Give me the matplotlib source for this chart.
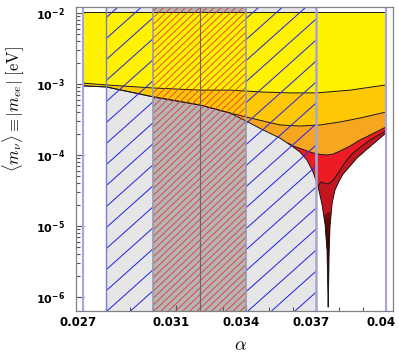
import numpy as np
import matplotlib
matplotlib.use('Agg')
import matplotlib.pyplot as plt
from matplotlib.collections import LineCollection
from matplotlib.colors import LinearSegmentedColormap
import matplotlib.transforms as mtransforms

# ---------------- data ----------------
alpha_top = [0.027, 0.040]
m_top = [1.02e-2, 1.02e-2]

alpha_L1 = [0.02700, 0.02800, 0.03000, 0.03202, 0.03331, 0.03473, 0.03588, 0.03704, 0.03846, 0.04000]
m_L1 = [1.03e-3, 9.7e-4, 8.8e-4, 8.2e-4, 8.2e-4, 7.7e-4, 7.5e-4, 7.5e-4, 8.2e-4, 9.7e-4]

alpha_L2 = [0.02700, 0.02800, 0.03000, 0.03202, 0.03331, 0.03400, 0.03473, 0.03545, 0.03631,
            0.03717, 0.03803, 0.03889, 0.04000]
m_L2 = [9.4e-4, 9.1e-4, 6.6e-4, 5.06e-4, 3.9e-4, 3.43e-4, 3.01e-4, 2.65e-4, 2.56e-4,
        2.65e-4, 2.92e-4, 3.32e-4, 4.03e-4]

# outer lower envelope (incl. the cancellation spike)
alpha_E = [0.02700, 0.02800, 0.03000, 0.03202, 0.03331, 0.03400, 0.03473, 0.03545, 0.03601,
           0.03631, 0.03661, 0.03687, 0.03709, 0.03726, 0.03739, 0.03747, 0.03750, 0.03752,
           0.03754, 0.03756, 0.03760, 0.03769, 0.03781, 0.03799, 0.03816, 0.03846, 0.03876,
           0.03910, 0.03945, 0.04000]
m_E = [9.4e-4, 9.1e-4, 6.6e-4, 5.06e-4, 3.9e-4, 3.0e-4, 2.25e-4, 1.73e-4, 1.30e-4,
       1.10e-4, 8.5e-5, 5.8e-5, 3.54e-5, 1.98e-5, 1.03e-5, 4.6e-6, 1.73e-6, 7.2e-7,
       1.73e-6, 4.6e-6, 1.03e-5, 2.11e-5, 3.21e-5, 4.3e-5, 5.4e-5, 7.0e-5, 9.1e-5,
       1.14e-4, 1.43e-4, 2.04e-4]

# top of the red region
alpha_L3 = [0.03580, 0.03601, 0.03631, 0.03661, 0.03687, 0.03717, 0.03747, 0.03773, 0.03803,
            0.03846, 0.03889, 0.03932, 0.04000]
m_L3 = [1.47e-4, 1.34e-4, 1.24e-4, 1.14e-4, 1.07e-4, 1.02e-4, 1.0e-4, 1.03e-4, 1.14e-4,
        1.34e-4, 1.63e-4, 1.91e-4, 2.48e-4]

# top of the dark-red region
alpha_D = [0.03709, 0.03721, 0.03739, 0.03752, 0.03769, 0.03786, 0.03803, 0.03828, 0.03859,
           0.03897, 0.03932, 0.04000]
m_D = [3.66e-5, 4.17e-5, 3.97e-5, 3.91e-5, 4.3e-5, 5.06e-5, 6.15e-5, 8.2e-5, 1.07e-4,
       1.34e-4, 1.63e-4, 2.21e-4]

# top of the darkest tip
alpha_D2 = [0.03735, 0.03752, 0.03765]
m_D2 = [1.38e-5, 1.57e-5, 1.50e-5]

# bands in alpha
band_outer = (0.028, 0.037)
band_inner = (0.030, 0.034)
alpha_center = 0.032
alpha_limits = (0.027, 0.040)

xtick_vals = [0.027, 0.031, 0.034, 0.037, 0.040]
xtick_labels = ['0.027', '0.031', '0.034', '0.037', '0.04']
xminor_vals = [0.028, 0.029, 0.030, 0.032, 0.033, 0.035, 0.036, 0.038, 0.039]
ytick_vals = [1e-6, 1e-5, 1e-4, 1e-3, 1e-2]
ytick_labels = [r'$\mathbf{10^{-6}}$', r'$\mathbf{10^{-5}}$', r'$\mathbf{10^{-4}}$',
                r'$\mathbf{10^{-3}}$', r'$\mathbf{10^{-2}}$']

# ---------------- figure ----------------
W_PX, H_PX = 399, 354
fig = plt.figure(figsize=(W_PX / 100, H_PX / 100), dpi=100)
L, R, T, B = 76, 393, 7, 311
ax = fig.add_axes([L / W_PX, 1 - B / H_PX, (R - L) / W_PX, (B - T) / H_PX])
ax.set_yscale('log')
ax.set_xlim(0.0267, 0.0403)
ax.set_ylim(6.35e-7, 1.215e-2)


def region(a_up, m_up, a_lo, m_lo):
    a0, a1 = a_up[0], a_up[-1]
    sel = [(a, m) for a, m in zip(a_lo, m_lo) if a0 <= a <= a1]
    xs = list(a_up) + [a for a, m in reversed(sel)]
    ys = list(m_up) + [m for a, m in reversed(sel)]
    return xs, ys


# background bands
ax.axvspan(*band_outer, color='#e6e6e6', lw=0, zorder=0.5)
ax.axvspan(*band_inner, color='#b5b5b5', lw=0, zorder=0.6)

# coloured regions
xs, ys = region(alpha_top, m_top, alpha_L1, m_L1)
ax.fill(xs, ys, color='#fff200', lw=0, zorder=1)
xs, ys = region(alpha_L1, m_L1, alpha_L2, m_L2)
ax.fill(xs, ys, color='#ffc805', lw=0, zorder=1.1)
xs, ys = region(alpha_L2, m_L2, alpha_E, m_E)
ax.fill(xs, ys, color='#f8a51f', lw=0, zorder=1.2)
xs, ys = region(alpha_L3, m_L3, alpha_E, m_E)
ax.fill(xs, ys, color='#ed1c24', lw=0, zorder=1.3)
xs, ys = region(alpha_D, m_D, alpha_E, m_E)
ax.fill(xs, ys, color='#c3161e', lw=0, zorder=1.4)
xs, ys = region(alpha_D2, m_D2, alpha_E, m_E)
tip = ax.fill(xs, ys, color='#6e0808', lw=0, zorder=1.5)[0]
grad = LinearSegmentedColormap.from_list('g', ['#1a0000', '#5a0505', '#8a0c0c'])
im = ax.imshow(np.linspace(0, 1, 64).reshape(-1, 1), cmap=grad, aspect='auto',
               extent=[0.03730, 0.03770, 7.0e-7, 1.6e-5], origin='lower', zorder=1.55,
               interpolation='bilinear')
im.set_clip_path(tip)
ax.set_xlim(0.0267, 0.0403)
ax.set_ylim(6.35e-7, 1.215e-2)

# outlines
for a, m in [(alpha_top, m_top), (alpha_L1, m_L1), (alpha_L2, m_L2), (alpha_E, m_E),
             (alpha_L3, m_L3), (alpha_D, m_D)]:
    ax.plot(a, m, color='#1a1a1a', lw=0.7, zorder=2)

# hatch lines (drawn in axes coordinates, clipped to the bands)
Wax, Hax = R - L, B - T


def hatch(span, slope_px, dx_px, x0_px, color, lw, alpha=1.0):
    clip = ax.axvspan(*span, facecolor='none', edgecolor='none', zorder=0)
    m = slope_px * Wax / Hax
    segs = []
    for k in range(-80, 80):
        xa = (x0_px + dx_px * k - L) / Wax
        if xa > 1.2 or xa + 1 / m < -0.2:
            continue
        segs.append([(xa, 0), (xa + 1 / m, 1)])
    lc = LineCollection(segs, colors=color, linewidths=lw, transform=ax.transAxes,
                        zorder=3, alpha=alpha)
    ax.add_collection(lc)
    lc.set_clip_path(clip)


hatch((band_outer[0], band_inner[0]), 0.894, 23.5, 107, '#2a2ae6', 0.75)
hatch((band_inner[1], band_outer[1]), 0.894, 23.5, 107, '#2a2ae6', 0.75)
hatch(band_inner, 0.95, 7.2, 154, '#e8302e', 0.65, 0.9)

# vertical lines
ax.axvline(alpha_limits[0], color='#a4a4e2', lw=1.5, zorder=4)
ax.axvline(alpha_limits[1], color='#a4a4e2', lw=1.5, zorder=4)
ax.axvline(band_outer[0], color='#7c7cd6', lw=1.0, zorder=4)
ax.axvline(band_outer[1], color='#a6a6d6', lw=1.8, zorder=4)
ax.axvline(band_inner[0], color='#9a9ab2', lw=1.2, zorder=4)
ax.axvline(band_inner[1], color='#9a9ab2', lw=1.2, zorder=4)
ax.axvline(alpha_center, color='#666666', lw=0.8, zorder=4)

# ticks
ax.set_xticks(xtick_vals)
ax.set_xticklabels(xtick_labels, fontsize=8.5, fontweight='bold', family='DejaVu Sans')
ax.set_xticks(xminor_vals, minor=True)
ax.set_yticks(ytick_vals)
ax.set_yticklabels(ytick_labels, fontsize=8)
yminor = [s * 10.0 ** e for e in range(-6, -2) for s in range(2, 10)]
ax.set_yticks(yminor, minor=True)
ax.yaxis.set_minor_formatter(plt.NullFormatter())
ax.tick_params(axis='both', which='both', direction='in', color='#555555', width=0.8)
ax.tick_params(axis='x', which='major', length=4, pad=3.5)
ax.tick_params(axis='x', which='minor', length=3)
ax.tick_params(axis='y', which='major', length=5.5, pad=8)
ax.tick_params(axis='y', which='minor', length=3)
offset = mtransforms.ScaledTranslation(-0.05, 0, fig.dpi_scale_trans)
for lab in ax.xaxis.get_majorticklabels():
    lab.set_transform(lab.get_transform() + offset)

for sp in ax.spines.values():
    sp.set_color('#808080')
    sp.set_linewidth(0.9)
    sp.set_zorder(5)

# axis labels
fig.text(240 / W_PX, 1 - 345 / H_PX, r'$\alpha$', fontsize=13, math_fontfamily='cm',
         ha='center', va='center')
fig.text(13 / W_PX, 1 - 109 / H_PX, r'$\langle m_\nu\rangle \equiv |m_{ee}|\ [\mathrm{eV}]$',
         fontsize=12, math_fontfamily='cm', rotation=90, ha='center', va='center')

fig.savefig('out.png', dpi=100)
